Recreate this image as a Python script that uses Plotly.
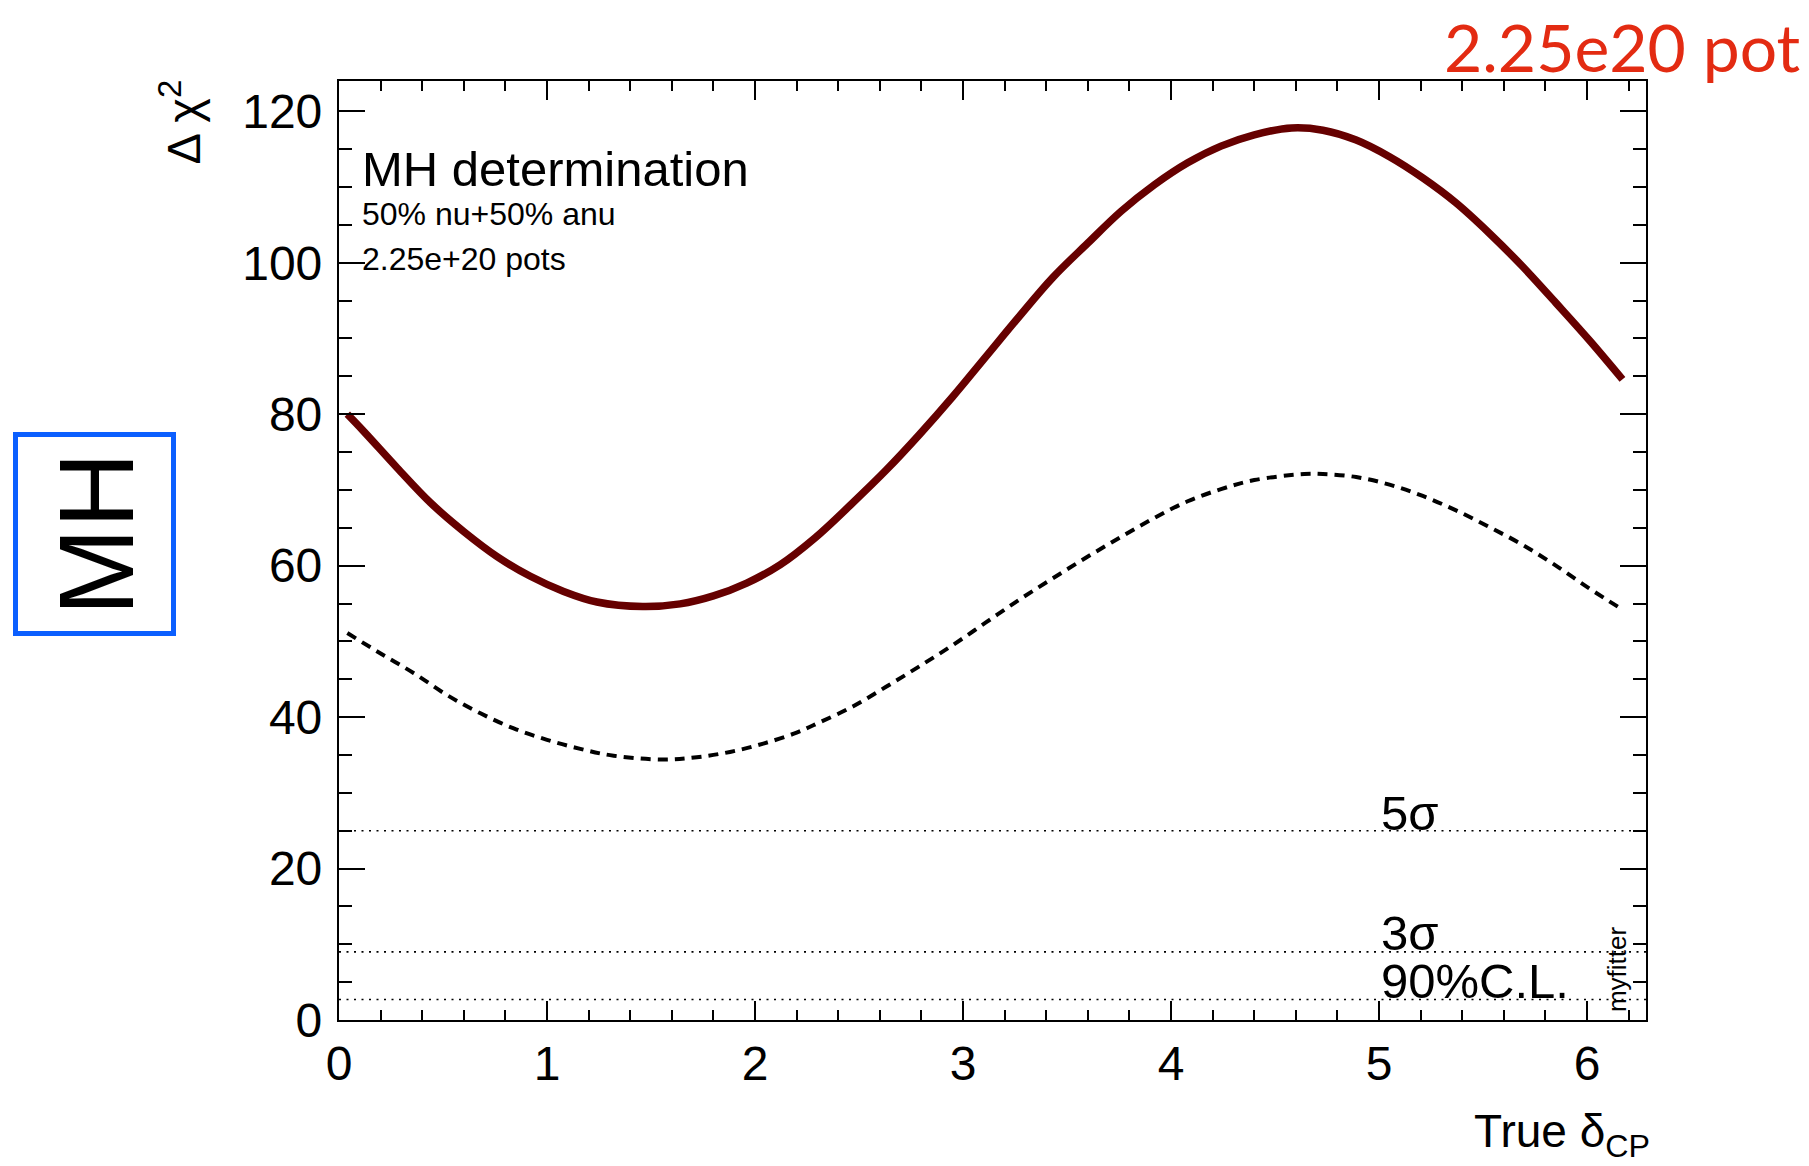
import math
import plotly.graph_objects as go

# True delta_CP values (radians) and Delta chi^2 for the mass-hierarchy sensitivity
delta_cp_solid = [0.04, 0.12, 0.28, 0.44, 0.60, 0.76, 0.92, 1.08, 1.24, 1.46,
                  1.64, 1.80, 1.96, 2.12, 2.29, 2.47, 2.63, 2.79, 2.95, 3.11,
                  3.27, 3.43, 3.60, 3.76, 3.92, 4.08, 4.24, 4.40, 4.58, 4.73,
                  4.89, 5.05, 5.21, 5.37, 5.53, 5.69, 5.85, 6.01, 6.17]
chi2_solid = [80.0, 77.7, 72.9, 68.3, 64.5, 61.2, 58.6, 56.6, 55.2, 54.6,
              54.95, 56.0, 57.7, 60.1, 63.7, 68.3, 72.6, 77.3, 82.3, 87.6,
              92.9, 98.0, 102.6, 106.8, 110.3, 113.2, 115.4, 116.9, 117.8, 117.5,
              116.2, 114.0, 111.2, 107.9, 103.9, 99.5, 94.7, 89.8, 84.6]

delta_cp_dashed = [0.04, 0.20, 0.36, 0.52, 0.68, 0.84, 1.00, 1.16, 1.32, 1.56,
                   1.72, 1.88, 2.04, 2.20, 2.31, 2.47, 2.63, 2.79, 2.95, 3.11,
                   3.27, 3.43, 3.60, 3.76, 3.92, 4.08, 4.24, 4.40, 4.64, 4.73,
                   4.89, 5.05, 5.21, 5.37, 5.53, 5.69, 5.85, 6.01, 6.17]
chi2_dashed = [51.1, 48.4, 45.8, 42.9, 40.5, 38.5, 37.0, 35.8, 34.9, 34.4,
               34.7, 35.4, 36.5, 37.95, 39.3, 41.4, 44.0, 46.7, 49.5, 52.5,
               55.5, 58.3, 61.2, 63.8, 66.3, 68.5, 70.1, 71.3, 72.1, 72.1,
               71.7, 70.7, 69.2, 67.3, 65.1, 62.75, 60.0, 57.0, 54.2]

# Confidence-level reference lines
cl_levels = [25.0, 9.0, 2.71]
cl_labels = ["5σ", "3σ", "90%C.L."]
cl_label_y = [27.4, 11.45, 5.15]

x_range = [0.0, 2 * math.pi]
y_range = [0.0, 124.0]

FONT = "Liberation Sans"
W, H = 1809, 1166
L, R, T, B = 339, W - 1646, 81, H - 1020
PW, PH = W - L - R, H - T - B


def px_x(p):
    return (p - L) / PW


def px_y(p):
    return (H - B - p) / PH


fig = go.Figure()

for lvl in cl_levels:
    fig.add_trace(go.Scatter(
        x=x_range, y=[lvl, lvl], mode="lines",
        line=dict(color="black", width=1.6, dash="2px,5.5px"),
        hoverinfo="skip", showlegend=False))

fig.add_trace(go.Scatter(
    x=delta_cp_dashed, y=chi2_dashed, mode="lines",
    line=dict(color="black", width=4, dash="10px,7px", shape="spline", smoothing=1.0),
    hoverinfo="skip", showlegend=False))

fig.add_trace(go.Scatter(
    x=delta_cp_solid, y=chi2_solid, mode="lines",
    line=dict(color="#660000", width=7.5, shape="spline", smoothing=1.0),
    hoverinfo="skip", showlegend=False))

axis_common = dict(
    showline=True, linecolor="black", linewidth=2.2, mirror="ticks",
    ticks="inside", tickwidth=2, tickcolor="black",
    showgrid=False, zeroline=False,
    tickfont=dict(family=FONT, size=48, color="black"),
)

fig.update_xaxes(
    range=x_range, tick0=0, dtick=1, ticklen=19, ticklabelstandoff=0,
    minor=dict(ticks="inside", dtick=0.2, ticklen=10, tickwidth=2,
               tickcolor="black", showgrid=False),
    **axis_common)
fig.update_yaxes(
    range=y_range, tick0=0, dtick=20, ticklen=26, ticklabelstandoff=5,
    minor=dict(ticks="inside", dtick=5, ticklen=13, tickwidth=2,
               tickcolor="black", showgrid=False),
    **axis_common)

ann = []
# Info text in the upper-left corner of the frame
ann.append(dict(x=0.10, y=112.4, xref="x", yref="y", text="MH determination",
                xanchor="left", yanchor="middle",
                font=dict(family=FONT, size=49, color="black")))
ann.append(dict(x=0.10, y=106.4, xref="x", yref="y", text="50% nu+50% anu",
                xanchor="left", yanchor="middle",
                font=dict(family=FONT, size=32, color="black")))
ann.append(dict(x=0.10, y=100.5, xref="x", yref="y", text="2.25e+20 pots",
                xanchor="left", yanchor="middle",
                font=dict(family=FONT, size=32, color="black")))

# Labels of the reference lines
for lab, ly in zip(cl_labels, cl_label_y):
    ann.append(dict(x=5.0, y=ly, xref="x", yref="y", text=lab,
                    xanchor="left", yanchor="middle",
                    font=dict(family=FONT, size=49, color="black")))

ann.append(dict(x=6.144, y=6.73, xref="x", yref="y", text="myfitter",
                textangle=-90, xanchor="center", yanchor="middle",
                font=dict(family=FONT, size=26, color="black")))

# Axis titles
ann.append(dict(x=px_x(180), y=px_y(78), xref="paper", yref="paper",
                text="Δ χ<sup>2</sup>", textangle=-90,
                xanchor="center", yanchor="top",
                font=dict(family=FONT, size=47, color="black")))
ann.append(dict(x=px_x(1652), y=px_y(1134), xref="paper", yref="paper",
                text="True δ<sub>CP</sub>", xanchor="right", yanchor="middle",
                font=dict(family=FONT, size=46, color="black")))

# Exposure tag above the frame
ann.append(dict(x=px_x(1802), y=px_y(46), xref="paper", yref="paper",
                text="2.25e20 pot", xanchor="right", yanchor="middle",
                font=dict(family="Lato", size=66, color="#E32B12")))

# Boxed "MH" tag on the left
ann.append(dict(x=px_x(95.5), y=px_y(534), xref="paper", yref="paper",
                text="MH", textangle=-90, xanchor="center", yanchor="middle",
                font=dict(family=FONT, size=105, color="black")))

for a in ann:
    a["showarrow"] = False

fig.update_layout(
    width=W, height=H,
    margin=dict(l=L, r=R, t=T, b=B, pad=0),
    paper_bgcolor="white", plot_bgcolor="white",
    annotations=ann,
    shapes=[dict(type="rect", xref="paper", yref="paper",
                 x0=px_x(15.5), x1=px_x(173.5), y0=px_y(633.5), y1=px_y(434.5),
                 line=dict(color="#0B5FFF", width=5), fillcolor="rgba(0,0,0,0)")],
)

fig.write_html("out.html")
